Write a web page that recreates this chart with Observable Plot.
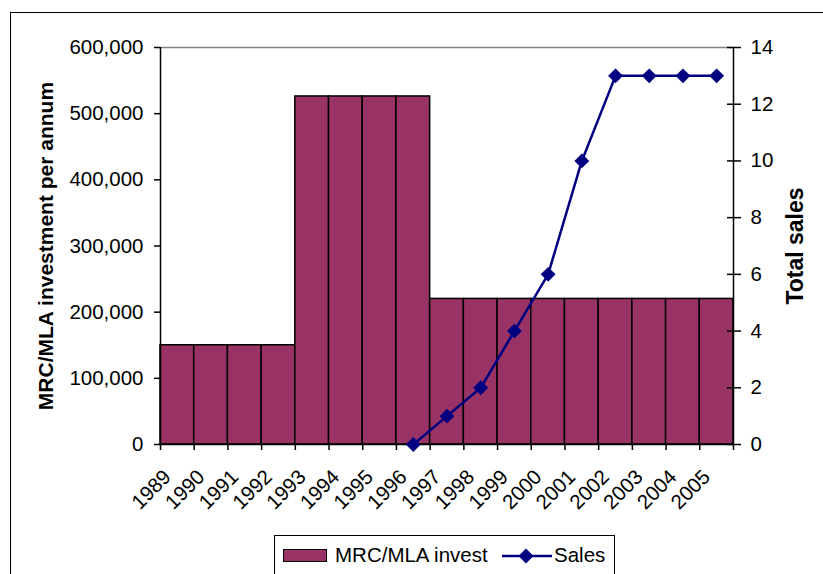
<!DOCTYPE html>
<html>
<head>
<meta charset="utf-8">
<script src="https://cdn.jsdelivr.net/npm/d3@7"></script>
<script src="https://cdn.jsdelivr.net/npm/@observablehq/plot@0.6"></script>
<style>
  html, body { margin: 0; padding: 0; background: #fff; overflow: hidden; }
  #wrap { position: relative; width: 823px; height: 574px; overflow: hidden; font-family: "Liberation Sans", Arial, sans-serif; }
  #border { position: absolute; left: 10px; top: 12px; width: 900px; height: 700px; border: 1px solid #000; box-sizing: border-box; }
  #chart { position: absolute; left: 0; top: 0; }
  #legend { position: absolute; left: 274px; top: 535px; width: 341px; height: 40px; border: 1px solid #000; box-sizing: border-box; background: #fff; font-size: 20.5px; color: #000; }
  #legend .sw { position: absolute; left: 8px; top: 13px; width: 44px; height: 13px; background: #993366; border: 1.5px solid #000; box-sizing: border-box; }
  #legend .t1 { position: absolute; left: 60px; top: 7px; white-space: nowrap; }
  #legend svg { position: absolute; left: 226px; top: 8px; }
  #legend .t2 { position: absolute; left: 279px; top: 7px; white-space: nowrap; }
</style>
</head>
<body>
<div id="wrap">
  <div id="border"></div>
  <div id="chart"></div>
  <div id="legend">
    <div class="sw"></div>
    <div class="t1">MRC/MLA invest</div>
    <svg width="52" height="24"><line x1="1" y1="12" x2="51" y2="12" stroke="#000080" stroke-width="2.5"/><path d="M25,4.5L32.5,12L25,19.5L17.5,12Z" fill="#000080"/></svg>
    <div class="t2">Sales</div>
  </div>
</div>
<script>
const years = [1989, 1990, 1991, 1992, 1993, 1994, 1995, 1996, 1997, 1998, 1999, 2000, 2001, 2002, 2003, 2004, 2005];
const invest = [150000, 150000, 150000, 150000, 526000, 526000, 526000, 526000, 220000, 220000, 220000, 220000, 220000, 220000, 220000, 220000, 220000];
const salesYears = [1996, 1997, 1998, 1999, 2000, 2001, 2002, 2003, 2004, 2005];
const sales = [0, 1, 2, 4, 6, 10, 13, 13, 13, 13];
const leftTicks = [0, 100000, 200000, 300000, 400000, 500000, 600000];
const rightTicks = [0, 2, 4, 6, 8, 10, 12, 14];
const leftTitle = "MRC/MLA investment per annum";
const rightTitle = "Total sales";

const investData = years.map((y, i) => ({year: y, value: invest[i]}));
const salesData = salesYears.map((y, i) => ({year: y, sales: sales[i]}));
const boundaries = years.concat([years[years.length - 1] + 1]);
const yMax = 600000, y2Max = 14, k = yMax / y2Max;

const chart = Plot.plot({
  width: 823,
  height: 530,
  marginLeft: 160,
  marginRight: 90,
  marginTop: 47,
  marginBottom: 86,
  x: {type: "linear", domain: [boundaries[0], boundaries[boundaries.length - 1]]},
  y: {domain: [0, yMax]},
  style: {fontFamily: "'Liberation Sans', Arial, sans-serif", fontSize: "20.5px", color: "#000", background: "transparent", overflow: "visible"},
  marks: [
    Plot.rectY(investData, {x1: "year", x2: d => d.year + 1, y: "value", fill: "#993366", stroke: "#000", strokeWidth: 1.5}),
    Plot.ruleY([yMax], {stroke: "#808080", strokeWidth: 1.5}),
    Plot.ruleY([0], {stroke: "#000", strokeWidth: 1.5}),
    Plot.ruleX([boundaries[0], boundaries[boundaries.length - 1]], {stroke: "#000", strokeWidth: 1.5}),
    Plot.line(salesData, {x: d => d.year + 0.5, y: d => d.sales * k, stroke: "#000080", strokeWidth: 2.5}),
    Plot.dot(salesData, {x: d => d.year + 0.5, y: d => d.sales * k, symbol: "diamond2", fill: "#000080", stroke: "none", r: 6.7}),
    Plot.axisY({ticks: leftTicks, tickFormat: d3.format(","), tickSize: 6, tickPadding: 11, label: null, strokeWidth: 1.5}),
    Plot.axisY({anchor: "right", ticks: rightTicks.map(v => v * k), tickFormat: v => String(Math.round(v / k)), tickSize: 7, tickPadding: 10, label: null, strokeWidth: 1.5}),
    Plot.axisY({anchor: "right", ticks: rightTicks.map(v => v * k), tickFormat: () => "", tickSize: 7, dx: -7, label: null, strokeWidth: 1.5}),
    Plot.axisX({ticks: boundaries, tickFormat: () => "", tickSize: 6, label: null, strokeWidth: 1.5}),
    Plot.axisX({ticks: years, tickFormat: d => String(d), tickSize: 0, tickRotate: -45, tickPadding: 29, dx: 7, label: null}),
    Plot.text([leftTitle], {frameAnchor: "left", textAnchor: "middle", rotate: -90, dx: -114, fontWeight: "bold", fontSize: 21}),
    Plot.text([rightTitle], {frameAnchor: "right", textAnchor: "middle", rotate: -90, dx: 62, fontWeight: "bold", fontSize: 23})
  ]
});
document.getElementById("chart").appendChild(chart);
</script>
</body>
</html>
